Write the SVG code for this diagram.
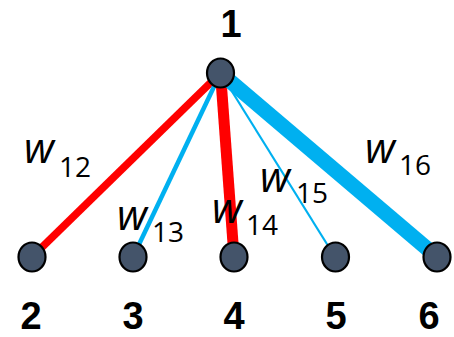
<svg xmlns="http://www.w3.org/2000/svg" width="454" height="337" viewBox="0 0 454 337">
<style>
.node{fill:#44546A;stroke:#000;stroke-width:2.2}
.lbl{font-family:"Liberation Sans",Arial,sans-serif;font-weight:bold;font-size:38px;fill:#000;text-anchor:middle}
.w{font-family:"Open Sans","Liberation Sans",Arial,sans-serif;font-style:italic;font-size:42px;fill:#000}
.sub{font-family:"Open Sans","Liberation Sans",Arial,sans-serif;font-size:28px;fill:#000}
.red{stroke:#FF0000;fill:none}
.blue{stroke:#00B0F0;fill:none}
</style>
<rect width="454" height="337" fill="#fff"/>
<g id="edges">
<line class="red" x1="220.5" y1="73" x2="32" y2="257" stroke-width="7.5"/>
<line class="blue" x1="220.5" y1="73" x2="133" y2="257" stroke-width="4.5"/>
<line class="red" x1="220.5" y1="73" x2="234" y2="257" stroke-width="11"/>
<line class="blue" x1="220.5" y1="73" x2="335" y2="257" stroke-width="2.2"/>
<line class="blue" x1="220.5" y1="73" x2="437" y2="257" stroke-width="15"/>
</g>
<g id="edge-labels">
<text class="w" x="24" y="163">w</text><text class="sub" x="59" y="177">12</text>
<text class="w" x="117" y="230">w</text><text class="sub" x="152" y="242">13</text>
<text class="w" x="212" y="223">w</text><text class="sub" x="246" y="235">14</text>
<text class="w" x="260" y="192">w</text><text class="sub" x="296" y="203">15</text>
<text class="w" x="365" y="163">w</text><text class="sub" x="399" y="175">16</text>
</g>
<g id="n1"><ellipse class="node" cx="220.5" cy="73" rx="13.5" ry="14.5"/><text class="lbl" x="231" y="37">1</text></g>
<g id="n2"><ellipse class="node" cx="32" cy="257" rx="13.5" ry="14.5"/><text class="lbl" x="31" y="329">2</text></g>
<g id="n3"><ellipse class="node" cx="133" cy="257" rx="13.5" ry="14.5"/><text class="lbl" x="133" y="329">3</text></g>
<g id="n4"><ellipse class="node" cx="234" cy="257" rx="13.5" ry="14.5"/><text class="lbl" x="234" y="329">4</text></g>
<g id="n5"><ellipse class="node" cx="335.5" cy="257" rx="13.5" ry="14.5"/><text class="lbl" x="336" y="329">5</text></g>
<g id="n6"><ellipse class="node" cx="437" cy="257" rx="13.5" ry="14.5"/><text class="lbl" x="429" y="329">6</text></g>
</svg>
